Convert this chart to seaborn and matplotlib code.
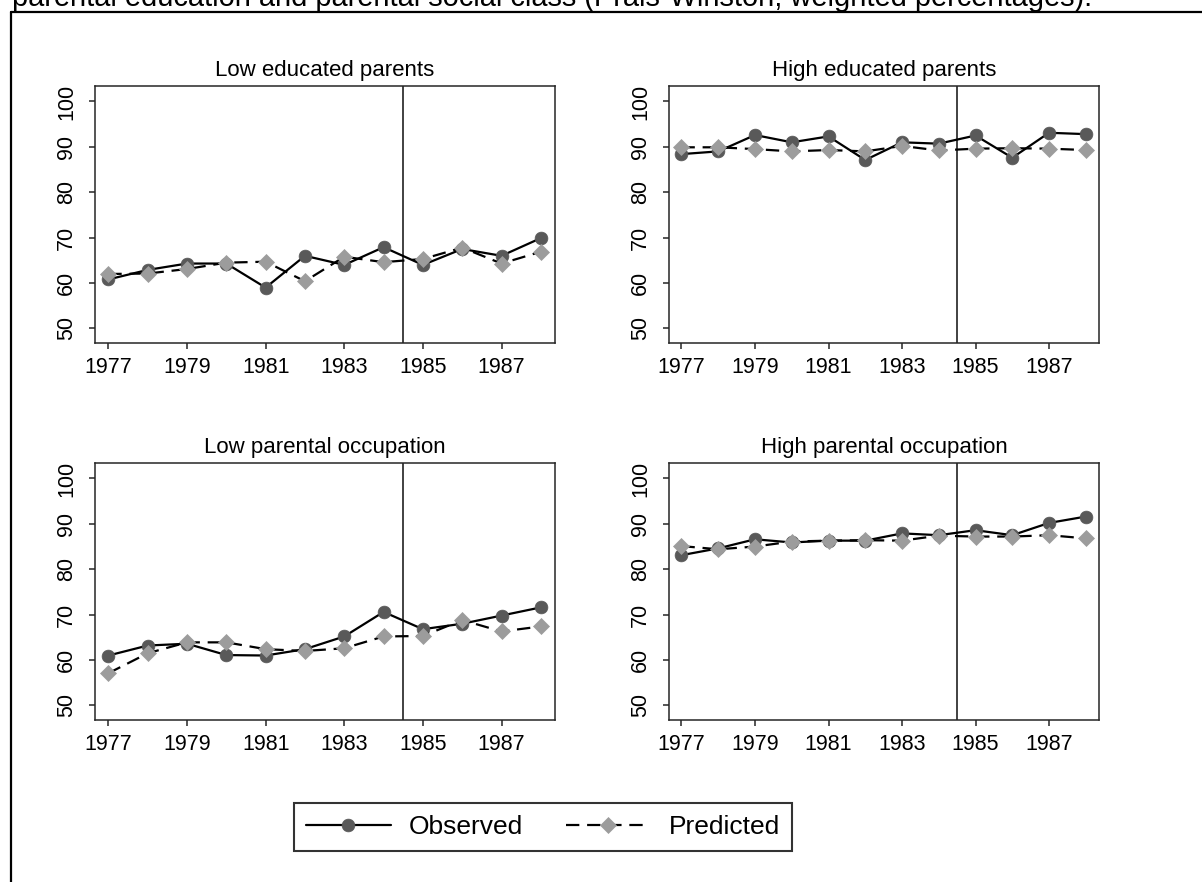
import numpy as np
import pandas as pd
import matplotlib
matplotlib.use("Agg")
import matplotlib.pyplot as plt
from matplotlib.lines import Line2D
import seaborn as sns

# ---- data -------------------------------------------------------------
years = [1977, 1978, 1979, 1980, 1981, 1982, 1983, 1984, 1985, 1986, 1987, 1988]

panel_titles = ["Low educated parents", "High educated parents",
                "Low parental occupation", "High parental occupation"]

low_edu_observed = [60.8, 62.9, 64.3, 64.3, 59.0, 66.0, 64.0, 67.9, 64.0, 67.5, 66.0, 69.9]
low_edu_predicted = [62.0, 62.1, 63.1, 64.5, 64.7, 60.4, 65.8, 64.6, 65.3, 67.8, 64.3, 66.9]

high_edu_observed = [88.4, 89.0, 92.6, 91.0, 92.3, 87.1, 91.0, 90.7, 92.5, 87.6, 93.1, 92.8]
high_edu_predicted = [89.9, 89.9, 89.5, 89.0, 89.3, 89.0, 90.2, 89.2, 89.6, 89.7, 89.6, 89.3]

low_occ_observed = [61.0, 63.2, 63.6, 61.1, 61.0, 62.4, 65.2, 70.6, 66.8, 68.0, 69.8, 71.6]
low_occ_predicted = [57.1, 61.5, 63.9, 63.9, 62.4, 62.0, 62.6, 65.2, 65.3, 68.8, 66.3, 67.4]

high_occ_observed = [83.1, 84.6, 86.6, 85.9, 86.3, 86.3, 87.9, 87.5, 88.6, 87.5, 90.2, 91.6]
high_occ_predicted = [85.1, 84.4, 85.0, 86.1, 86.3, 86.4, 86.3, 87.4, 87.2, 87.2, 87.5, 86.8]

series_names = ["Observed", "Predicted"]
x_ticks = [1977, 1979, 1981, 1983, 1985, 1987]
y_ticks = [50, 60, 70, 80, 90, 100]
reform_year = 1984.5

caption = ("parental education and parental social class "
           "(Prais-Winston, weighted percentages).")

# ---- long table -------------------------------------------------------
panel_values = [
    (low_edu_observed, low_edu_predicted),
    (high_edu_observed, high_edu_predicted),
    (low_occ_observed, low_occ_predicted),
    (high_occ_observed, high_occ_predicted),
]
frames = []
for title, (obs, pred) in zip(panel_titles, panel_values):
    frames.append(pd.DataFrame({"panel": title, "year": years,
                                "value": obs, "series": "Observed"}))
    frames.append(pd.DataFrame({"panel": title, "year": years,
                                "value": pred, "series": "Predicted"}))
df = pd.concat(frames, ignore_index=True)

# ---- styling ----------------------------------------------------------
sns.set_theme(style="white")
plt.rcParams["font.family"] = ["Liberation Sans", "DejaVu Sans"]
plt.rcParams["text.color"] = "black"

W, H = 1202, 882
fig = plt.figure(figsize=(W / 100, H / 100), dpi=100)
fig.patch.set_facecolor("white")

def px_axes(left, top, right, bottom):
    return fig.add_axes([left / W, 1 - bottom / H, (right - left) / W, (bottom - top) / H])

boxes = [(95, 86, 555, 343), (669, 86, 1099, 343),
         (95, 463, 555, 720), (669, 463, 1099, 720)]

obs_style = dict(color="black", linewidth=1.6, marker="o", markersize=9.2,
                 markerfacecolor="#595959", markeredgecolor="#595959",
                 markeredgewidth=0.5)
pred_style = dict(color="black", linewidth=1.6, marker="D", markersize=7.8,
                  markerfacecolor="#9c9c9c", markeredgecolor="#9c9c9c",
                  markeredgewidth=0.5)
dash_pattern = (6, 3.5)

spine_color = "#262626"

for title, box in zip(panel_titles, boxes):
    ax = px_axes(*box)
    sub = df[df["panel"] == title]
    sns.lineplot(data=sub[sub["series"] == "Observed"], x="year", y="value",
                 ax=ax, legend=False, **obs_style)
    sns.lineplot(data=sub[sub["series"] == "Predicted"], x="year", y="value",
                 ax=ax, legend=False, **pred_style)
    ax.lines[-1].set_dashes(dash_pattern)
    ax.axvline(reform_year, color="#333333", linewidth=1.3, zorder=1)

    ax.set_xlim(1976.66, 1988.36)
    ax.set_ylim(46.8, 103.4)
    ax.set_xticks(x_ticks)
    ax.set_yticks(y_ticks)
    ax.set_xticklabels([str(t) for t in x_ticks], fontsize=15.5)
    ax.set_yticklabels([str(t) for t in y_ticks], fontsize=15.5, rotation=90,
                       va="center")
    ax.tick_params(axis="both", direction="out", length=4.5, width=1.1,
                   color=spine_color, left=True, bottom=True, labelcolor="black")
    ax.tick_params(axis="x", pad=5.5)
    ax.tick_params(axis="y", pad=8.5)
    ax.set_xlabel("")
    ax.set_ylabel("")
    ax.set_title(title, fontsize=16, pad=7, color="black")
    for s in ax.spines.values():
        s.set_visible(True)
        s.set_color(spine_color)
        s.set_linewidth(1.1)
    ax.grid(False)

# ---- legend -----------------------------------------------------------
handles = [
    Line2D([], [], **obs_style),
    Line2D([], [], dashes=dash_pattern, **pred_style),
]
leg = fig.legend(handles, series_names, loc="center",
                 bbox_to_anchor=(543 / W, 1 - 827 / H), ncol=2, fontsize=19,
                 frameon=True, fancybox=False, edgecolor="black",
                 handlelength=3.2, handletextpad=0.7, columnspacing=1.6,
                 borderpad=0.45)
leg.get_frame().set_linewidth(1.5)
for t in leg.get_texts():
    t.set_color("black")

# ---- outer frame and caption (caption continues above the frame) ------
fig.add_artist(Line2D([11 / W, 1.0], [1 - 12 / H, 1 - 12 / H],
                      transform=fig.transFigure, color="black", linewidth=1.6))
fig.add_artist(Line2D([11 / W, 11 / W], [1 - 12 / H, 0.0],
                      transform=fig.transFigure, color="black", linewidth=1.6))
fig.text(12 / W, 1 - 6 / H, caption, fontsize=20.9, ha="left", va="baseline",
         color="black")

fig.savefig("out.png", dpi=100, facecolor="white")
